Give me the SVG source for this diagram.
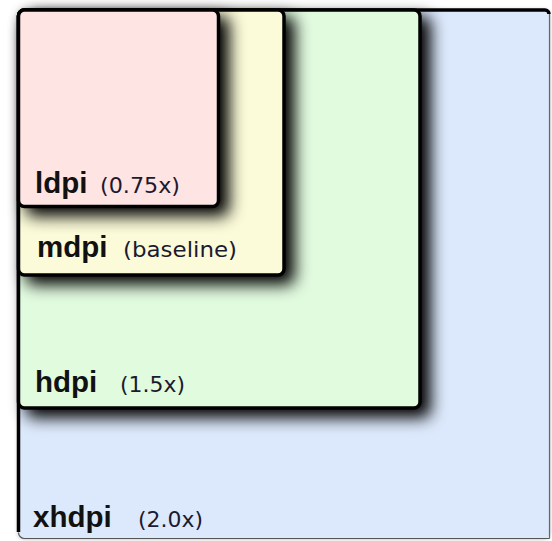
<svg xmlns="http://www.w3.org/2000/svg" width="552" height="541" viewBox="0 0 552 541">
<defs>
<filter id="sh" x="-10%" y="-10%" width="150%" height="150%">
<feDropShadow dx="9" dy="8" stdDeviation="8" flood-color="#000" flood-opacity="1"/>
</filter>
<filter id="glow" x="-5%" y="-5%" width="110%" height="110%">
<feDropShadow dx="0" dy="0" stdDeviation="2" flood-color="#000" flood-opacity="0.35"/>
</filter>
<style>
.box{stroke:#000;stroke-width:3.5}
.lbl{font-family:"Liberation Sans",Arial,sans-serif;font-weight:bold;font-size:29.5px;fill:#111}
.sub{font-family:"DejaVu Sans","Liberation Sans",sans-serif;font-size:22px;fill:#1a1a30}
</style>
</defs>
<rect width="552" height="541" fill="#fff"/>
<g id="xhdpi">
<rect x="18.5" y="10" width="531" height="528.5" rx="6" fill="#dce9fc" filter="url(#glow)"/>
<path d="M549.5 538.5 V14" fill="none" stroke="#666" stroke-width="1.2"/>
<path d="M549.5 538.5 H24.5 a6 6 0 0 1 -6 -6" fill="none" stroke="#555" stroke-width="1.2"/>
<path d="M18.5 532 V16 a6 6 0 0 1 6 -6 H545 a4 4 0 0 1 4 4" fill="none" stroke="#000" stroke-width="3.5"/>
<text class="lbl" x="33" y="527">xhdpi</text>
<text class="sub" x="138" y="527" textLength="65" lengthAdjust="spacingAndGlyphs">(2.0x)</text>
</g>
<g id="hdpi">
<rect class="box" x="18.5" y="10" width="401.5" height="398" rx="6" fill="#e1fbdf" filter="url(#sh)"/>
<text class="lbl" x="35" y="392">hdpi</text>
<text class="sub" x="120" y="392" textLength="65" lengthAdjust="spacingAndGlyphs">(1.5x)</text>
</g>
<g id="mdpi">
<rect class="box" x="18.5" y="10" width="265.5" height="265" rx="6" fill="#fbfbd9" filter="url(#sh)"/>
<text class="lbl" x="37" y="257">mdpi</text>
<text class="sub" x="123" y="257" textLength="114" lengthAdjust="spacingAndGlyphs">(baseline)</text>
</g>
<g id="ldpi">
<rect class="box" x="18.5" y="10" width="200" height="196.5" rx="6" fill="#ffe4e4" filter="url(#sh)"/>
<text class="lbl" x="35" y="193">ldpi</text>
<text class="sub" x="100" y="193" textLength="80" lengthAdjust="spacingAndGlyphs">(0.75x)</text>
</g>
<g id="connectors"/>
</svg>
